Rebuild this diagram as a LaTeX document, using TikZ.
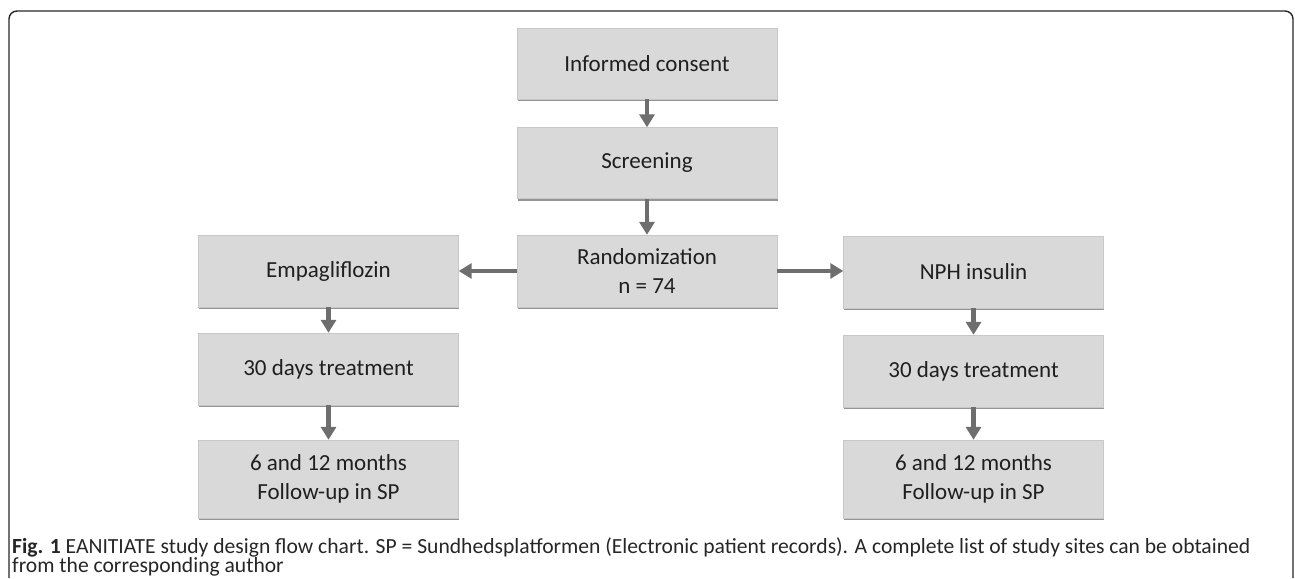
\documentclass[tikz,border=0pt]{standalone}
\usepackage{fontspec}
\usepackage{graphicx}
\setmainfont{Carlito}
\usetikzlibrary{arrows.meta,shadows}
\definecolor{boxgray}{HTML}{D9D9D9}
\definecolor{arrgray}{HTML}{6E6E6E}
\definecolor{shadowgray}{HTML}{8A8A8A}
\newsavebox\caplineA
\newsavebox\caplineB
\begin{document}
\begin{tikzpicture}[x=1pt,y=-1pt,
  flowbox/.style={rectangle, fill=boxgray, draw=boxgray!92!black, line width=0.4pt,
    minimum width=260pt, minimum height=71pt, align=center, inner sep=0pt,
    font=\fontsize{23}{29}\selectfont, text=black!88,
    drop shadow={shadow xshift=0.6pt, shadow yshift=-2.2pt, fill=shadowgray, opacity=0.9}},
  flowarrow/.style={draw=arrgray, line width=4.3pt,
    -{Triangle[length=13pt,width=15pt]}},
  captext/.style={anchor=base west, inner sep=0pt, text=black!85}]
\useasboundingbox (0,0) rectangle (1295,578);
% frame
\draw[line width=1.4pt, black!85] (9,578) -- (9,19) arc[start angle=180,end angle=90,radius=8pt] -- (1285,11) arc[start angle=90,end angle=0,radius=8pt] -- (1293,578);
% boxes
\node[flowbox] (ic) at (647,63.5) {Informed consent};
\node[flowbox] (sc) at (647,163) {Screening};
\node[flowbox, minimum height=72pt] (rd) at (647,271) {Randomization\\ n = 74};
\node[flowbox, minimum height=72pt] (em) at (328.5,271) {Empagliflozin};
\node[flowbox, minimum height=72pt] (np) at (973.5,272) {NPH insulin};
\node[flowbox, minimum height=72pt] (t1) at (328.5,369) {30 days treatment};
\node[flowbox, minimum height=72pt] (t2) at (973.5,371) {30 days treatment};
\node[flowbox, minimum height=78pt] (f1) at (328.5,479) {6 and 12 months\\ Follow-up in SP};
\node[flowbox, minimum height=78pt] (f2) at (973.5,479) {6 and 12 months\\ Follow-up in SP};
% arrows
\draw[flowarrow] (ic.south) -- (sc.north);
\draw[flowarrow] (sc.south) -- (rd.north);
\draw[flowarrow] (rd.west) -- (em.east);
\draw[flowarrow] (rd.east) -- (np.west |- rd.east);
\draw[flowarrow] (em.south) -- (t1.north);
\draw[flowarrow] (t1.south) -- (f1.north);
\draw[flowarrow] (np.south) -- (t2.north);
\draw[flowarrow] (t2.south) -- (f2.north);
% caption
\node[captext] (cap1) at (12,553) {\global\setbox\caplineA=\hbox{\textbf{Fig. 1} EANITIATE study design flow chart. SP = Sundhedsplatformen (Electronic patient records). A complete list of study sites can be obtained}\global\setbox\caplineB=\hbox{from the corresponding author}\resizebox{1238pt}{!}{\usebox\caplineA}};
\node[captext] (cap2) at (12,572) {\resizebox{\dimexpr\wd\caplineB*81133568/\wd\caplineA\relax}{!}{\usebox\caplineB}};
\end{tikzpicture}
\end{document}
